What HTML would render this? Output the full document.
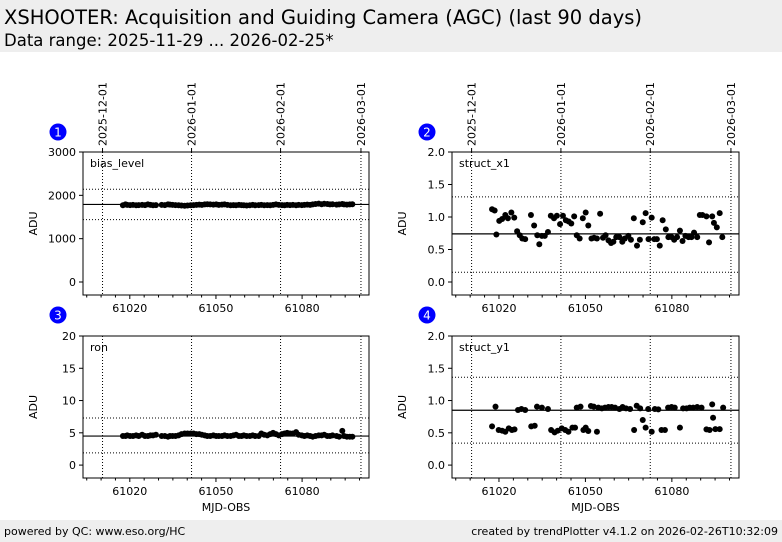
<!DOCTYPE html>
<html><head><meta charset="utf-8"><style>
body{margin:0;width:782px;height:542px;background:#fff;font-family:"DejaVu Sans","Liberation Sans",sans-serif;overflow:hidden;position:relative}
#hdr{position:absolute;left:0;top:0;width:782px;height:52px;background:#eeeeee}
#ftr{position:absolute;left:0;top:520px;width:782px;height:22px;background:#eeeeee;font-size:11px}
</style></head><body>
<div id="hdr">
<div style="position:absolute;left:4px;top:6px;font-size:19.5px">XSHOOTER: Acquisition and Guiding Camera (AGC) (last 90 days)</div>
<div style="position:absolute;left:4px;top:31px;font-size:16.5px">Data range: 2025-11-29 ... 2026-02-25*</div>
</div>
<svg id="chart" width="782" height="542" style="position:absolute;left:0;top:0" font-family="DejaVu Sans, Liberation Sans, sans-serif"></svg>
<div id="ftr">
<span style="position:absolute;left:4px;top:5px">powered by QC: www.eso.org/HC</span>
<span style="position:absolute;right:4px;top:5px">created by trendPlotter v4.1.2 on 2026-02-26T10:32:09</span>
</div>
<script>
const y1Mjd=[17.6,18.8,19.9,21.1,22.2,23.4,24.5,25.4,26.6,27.8,29.1,31.2,32.4,33.2,34.9,37.0,38.1,39.3,40.4,41.8,43.0,44.1,45.5,46.4,47.0,48.3,49.3,50.1,51.0,51.9,52.9,54.0,54.5,55.7,56.8,58.0,59.1,60.3,61.8,62.9,64.1,65.5,66.9,67.8,69.0,69.9,70.9,71.8,73.0,74.1,75.3,76.4,77.6,78.7,79.9,81.0,82.8,83.9,85.1,86.2,87.4,88.8,90.3,92.0,93.1,94.0,94.3,95.1,96.6,97.8];
const y1Vals=[0.60,0.905,0.543,0.533,0.517,0.569,0.543,0.553,0.853,0.869,0.853,0.60,0.61,0.905,0.89,0.869,0.543,0.507,0.533,0.569,0.543,0.517,0.58,0.58,0.89,0.905,0.543,0.58,0.528,0.915,0.905,0.517,0.89,0.879,0.89,0.90,0.90,0.89,0.869,0.90,0.879,0.869,0.543,0.92,0.879,0.698,0.58,0.869,0.517,0.869,0.864,0.543,0.543,0.89,0.90,0.89,0.58,0.879,0.879,0.89,0.89,0.90,0.89,0.553,0.543,0.941,0.734,0.558,0.558,0.89];
const x1Mjd=[17.6,18.5,19.1,20.1,21.1,22.2,23.1,24.3,25.3,26.3,27.2,28.1,29.1,31.1,32.2,33.3,34.0,34.9,35.9,37.0,38.0,39.1,40.1,41.2,42.2,43.2,44.2,45.1,46.1,47.0,48.0,49.1,50.1,51.0,52.1,53.0,54.0,55.1,56.1,57.0,58.0,58.9,59.7,60.7,61.8,62.8,63.7,64.9,65.8,66.8,67.9,68.9,69.9,70.9,71.9,73.0,73.9,74.8,75.8,76.8,77.9,78.8,79.9,80.8,81.8,82.8,83.7,84.7,85.8,86.8,87.7,88.8,89.7,90.6,92.0,92.9,94.0,94.6,95.6,96.6,97.5];
const x1Vals=[1.12,1.10,0.73,0.94,0.97,1.03,0.98,1.07,0.99,0.78,0.72,0.67,0.66,1.03,0.87,0.72,0.58,0.71,0.71,0.77,1.02,0.98,1.02,0.89,1.02,0.95,0.93,0.90,1.01,0.72,0.67,0.98,1.07,0.87,0.67,0.68,0.67,1.05,0.68,0.72,0.64,0.60,0.62,0.69,0.69,0.62,0.67,0.71,0.65,0.98,0.56,0.65,0.92,1.06,0.66,0.99,0.66,0.66,0.56,0.95,0.81,0.69,0.69,0.65,0.69,0.79,0.63,0.71,0.69,0.69,0.76,0.69,1.03,1.03,1.01,0.61,1.01,0.91,0.84,1.06,0.69];
const biasVals=[1770,1790,1780,1775,1780,1770,1775,1780,1775,1790,1780,1770,1775,1780,1775,1790,1785,1780,1775,1770,1765,1760,1765,1770,1775,1780,1785,1780,1790,1795,1790,1785,1790,1780,1785,1790,1780,1770,1775,1770,1780,1775,1770,1765,1770,1780,1770,1775,1780,1770,1775,1770,1780,1790,1780,1775,1770,1780,1775,1780,1770,1780,1775,1780,1785,1780,1790,1800,1810,1795,1805,1800,1790,1795,1785,1790,1800,1790,1785,1790,1795];
const ronVals=[4.5,4.5,4.6,4.5,4.5,4.6,4.5,4.7,4.5,4.5,4.6,4.6,4.7,4.5,4.5,4.4,4.5,4.5,4.5,4.6,4.8,4.9,4.9,4.9,4.9,4.8,4.8,4.7,4.6,4.5,4.5,4.6,4.5,4.5,4.5,4.6,4.5,4.5,4.6,4.7,4.5,4.5,4.6,4.5,4.5,4.6,4.5,4.5,4.9,4.7,4.6,4.8,5.0,4.8,4.6,4.8,4.9,5.0,4.9,4.9,5.1,4.7,4.6,4.5,4.6,4.5,4.4,4.5,4.6,4.6,4.7,4.5,4.5,4.6,4.5,4.4,5.3,4.5,4.4,4.4,4.4];
const yTicks1=[0,1000,2000,3000], yTicks2=[0.0,0.5,1.0,1.5,2.0], yTicks3=[0,5,10,15,20];
const xMajor=[61020,61050,61080];
const dateLabels=["2025-12-01","2026-01-01","2026-02-01","2026-03-01"];
const dateMjd=[61010.5,61041.5,61072.5,61100.5];
const NS='http://www.w3.org/2000/svg';
const svg=document.getElementById('chart');
function mk(t,a,p){const e=document.createElementNS(NS,t);for(const k in a)e.setAttribute(k,a[k]);(p||svg).appendChild(e);return e;}
const XD=[61003.7,61103.3];
function panel(num,L,T,W,H,yd,ticks,fmt,name,mjd,vals,med,lo,hi,top,bottom){
  const g=mk('g',{});
  
  
  const sx=m=>L+(m-XD[0])/(XD[1]-XD[0])*W;
  const sy=v=>T+H-(v-yd[0])/(yd[1]-yd[0])*H;
  dateMjd.forEach((d,i)=>{const x=sx(d);
    const l=mk('line',{x1:x,x2:x,y1:T,y2:T+H,stroke:'#000','stroke-width':1,'stroke-dasharray':'1,2'},g);
    
    if(top){mk('line',{x1:x,x2:x,y1:T,y2:T-4,stroke:'#000'},g);
      const t=mk('text',{x:0,y:0,'font-size':11,transform:`translate(${x+4},${T-6}) rotate(-90)`},g);t.textContent=dateLabels[i];
      }
  });
  [lo,hi].forEach(v=>{const l=mk('line',{x1:L,x2:L+W,y1:sy(v),y2:sy(v),stroke:'#000','stroke-dasharray':'1,2'},g);
    });
  const ml=mk('line',{x1:L,x2:L+W,y1:sy(med),y2:sy(med),stroke:'#000','stroke-width':1.2},g);
  
  for(let i=0;i<vals.length;i++){const c=mk('circle',{cx:sx(61000+mjd[i]),cy:sy(vals[i]),r:3,fill:'#000'},g);
    }
  mk('rect',{x:L,y:T,width:W,height:H,fill:'none',stroke:'#000','stroke-width':1},g);
  ticks.forEach(v=>{const y=sy(v);mk('line',{x1:L-4,x2:L,y1:y,y2:y,stroke:'#000'},g);
    const t=mk('text',{x:L-7,y:y+4,'font-size':11,'text-anchor':'end'},g);t.textContent=fmt(v);
    });
  for(let m=61005;m<=61100;m+=5){const x=sx(m);const maj=xMajor.includes(m);
    mk('line',{x1:x,x2:x,y1:T+H,y2:T+H+(maj?4:2.5),stroke:'#000'},g);
    if(maj){const t=mk('text',{x:x,y:T+H+17,'font-size':11,'text-anchor':'middle'},g);t.textContent=m;
      }}
  const lab=mk('text',{x:L+7,y:T+15,'font-size':11},g);lab.textContent=name;
  
  const ya=mk('text',{x:0,y:0,'font-size':11,'text-anchor':'middle',transform:`translate(${L-46},${T+H/2}) rotate(-90)`},g);ya.textContent='ADU';
  
  if(bottom){const xa=mk('text',{x:L+W/2,y:T+H+33,'font-size':11,'text-anchor':'middle'},g);xa.textContent='MJD-OBS';
    }
  const cx=L-25, cy=top?132:315;
  const b=mk('circle',{cx:cx,cy:cy,r:8.5,fill:'#0000ff'},g);
  
  const bt=mk('text',{x:cx,y:cy+4.5,'font-size':12,'text-anchor':'middle',fill:'#fff'},g);bt.textContent=num;
  
}
const f0=v=>String(v), f1=v=>v.toFixed(1);
panel(1,83,152,286,143,[-300,3000],yTicks1,f0,'bias_level',x1Mjd,biasVals,1790,1440,2140,true,false);
panel(2,452,152,287,143,[-0.2,2.0],yTicks2,f1,'struct_x1',x1Mjd,x1Vals,0.74,0.15,1.31,true,false);
panel(3,83,336,286,142,[-2,20],yTicks3,f0,'ron',x1Mjd,ronVals,4.5,1.9,7.3,false,true);
panel(4,452,336,287,142,[-0.2,2.0],yTicks2,f1,'struct_y1',y1Mjd,y1Vals,0.85,0.34,1.36,false,true);
</script>
</body></html>
